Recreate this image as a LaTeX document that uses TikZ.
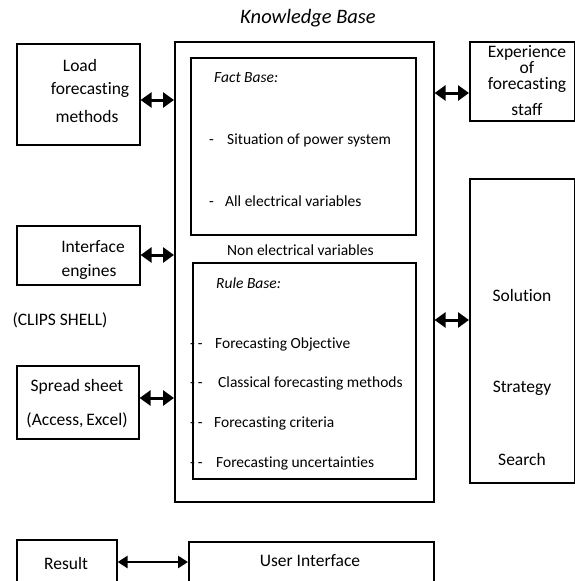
\documentclass[tikz,border=0pt]{standalone}
\usepackage{fontspec}
\setmainfont{Carlito}[Ligatures=NoCommon]
\usetikzlibrary{arrows.meta}
\begin{document}
\begin{tikzpicture}[x=1pt,y=-1pt,
  box/.style={draw,line width=1.6pt,anchor=north west,inner sep=0pt},
  txt/.style={font=\fontsize{17.5}{20}\selectfont,inner sep=0pt},
  itm/.style={font=\fontsize{15.5}{18}\selectfont,inner sep=0pt,anchor=base west},
  dbl/.style={line width=3pt,{Triangle[width=15pt,length=11pt]}-{Triangle[width=15pt,length=11pt]}},
  dbl2/.style={line width=2.6pt,{Triangle[width=12pt,length=10pt]}-{Triangle[width=12pt,length=10pt]}}]
\useasboundingbox (0,0) rectangle (575,581);
% title
\node[font=\fontsize{20.5}{23}\selectfont\itshape,inner sep=0pt] (title) at (308,18) {Knowledge Base};
% knowledge base
\node[box,minimum width=259pt,minimum height=460pt] (kb) at (174,41) {};
\node[box,minimum width=225pt,minimum height=177pt] (fact) at (190,57) {};
\node[box,minimum width=223pt,minimum height=216pt] (rule) at (192,262) {};
\node[itm,font=\fontsize{15.5}{18}\selectfont\itshape] (fb) at (214,82) {Fact Base:};
\node[itm] (fd1) at (209,144) {-};
\node[itm] (f1) at (227,144) {Situation of power system};
\node[itm] (fd2) at (209,206) {-};
\node[itm] (f2) at (225,206) {All electrical variables};
\node[itm] (nev) at (227,255) {Non electrical variables};
\node[itm,font=\fontsize{15.5}{18}\selectfont\itshape] (rb) at (216,288) {Rule Base:};
\node[itm] (rd1) at (190,348) {-\hspace{3pt}-};
\node[itm] (r1) at (215,348) {Forecasting Objective};
\node[itm] (rd2) at (190,387) {-\hspace{3pt}-};
\node[itm] (r2) at (218,387) {Classical forecasting methods};
\node[itm] (rd3) at (190,427) {-\hspace{3pt}-};
\node[itm] (r3) at (214,427) {Forecasting criteria};
\node[itm] (rd4) at (190,467) {-\hspace{3pt}-};
\node[itm] (r4) at (216,467) {Forecasting uncertainties};
% left boxes
\node[box,minimum width=123pt,minimum height=101pt] (load) at (16,43) {};
\node[txt] (l1) at (80,65) {Load};
\node[txt] (l2) at (90,90) {forecasting};
\node[txt] (l3) at (87,116) {methods};
\node[box,minimum width=123pt,minimum height=59pt] (ie) at (16,225) {};
\node[txt] (i1) at (93,247) {Interface};
\node[txt] (i2) at (89,272) {engines};
\node[txt] (clips) at (60,320) {(CLIPS SHELL)};
\node[box,minimum width=122pt,minimum height=73pt] (ss) at (16,365) {};
\node[txt] (s1) at (77,387) {Spread sheet};
\node[txt] (s2) at (77,420) {(Access,\,Excel)};
% right boxes
\node[box,minimum width=105pt,minimum height=79pt] (exp) at (469,41) {};
\node[txt,align=center,font=\fontsize{17.5}{16}\selectfont] (e1) at (527,69) {Experience\\of\\forecasting};
\node[txt] (e4) at (527,110) {staff};
\node[box,minimum width=105pt,minimum height=304pt] (sol) at (469,178) {};
\node[txt] (so1) at (522,295) {Solution};
\node[txt] (so2) at (522,388) {Strategy};
\node[txt] (so3) at (522,459) {Search};
% bottom
\node[box,minimum width=100pt,minimum height=50pt] (res) at (16,539) {};
\node[txt] (re) at (66,563) {Result};
\node[box,minimum width=245pt,minimum height=50pt] (ui) at (188,541) {};
\node[txt] (uit) at (310,561) {User Interface};
% arrows
\draw[dbl] (load.east |- 0,100) -- (kb.west |- 0,100);
\draw[dbl] (ie.east |- 0,255) -- (kb.west |- 0,255);
\draw[dbl] (ss.east |- 0,398) -- (kb.west |- 0,398);
\draw[dbl] (kb.east |- 0,93) -- (exp.west |- 0,93);
\draw[dbl] (kb.east |- 0,320) -- (sol.west |- 0,320);
\draw[dbl2] (res.east |- 0,562) -- (ui.west |- 0,562);
\end{tikzpicture}
\end{document}
